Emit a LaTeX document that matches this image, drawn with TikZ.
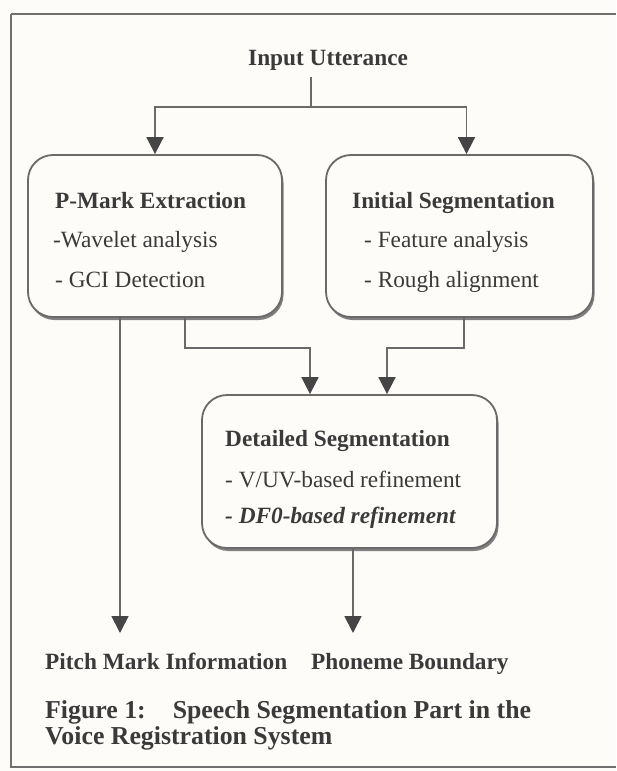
\documentclass[tikz,border=0pt]{standalone}
\usepackage{fontspec}
\setmainfont{Liberation Serif}
\usetikzlibrary{arrows.meta,calc,shadows}
\definecolor{ink}{HTML}{3A3A3A}
\definecolor{linec}{HTML}{6A6A6A}
\definecolor{tipc}{HTML}{454545}
\definecolor{paper}{HTML}{FDFCF9}
\definecolor{framec}{HTML}{707070}
\begin{document}
\begin{tikzpicture}[x=1pt,y=-1pt,
  txt/.style={font=\fontsize{23.3}{28}\selectfont, text=ink, inner sep=0pt, anchor=base west},
  btxt/.style={txt, font=\fontsize{23.3}{28}\selectfont\bfseries},
  bitxt/.style={txt, font=\fontsize{23.3}{28}\selectfont\bfseries\itshape},
  captxt/.style={txt, font=\fontsize{25.8}{28}\selectfont\bfseries},
  box/.style={draw=linec, line width=1.8pt, rounded corners=25pt, fill=paper, inner sep=0pt,
    drop shadow={shadow xshift=1.5pt, shadow yshift=-3pt, fill=black!55, opacity=0.9}},
  conn/.style={draw=linec, line width=1.8pt},
  arr/.style={conn, -{Triangle[width=17pt,length=17pt,color=tipc]}}
]
\useasboundingbox[fill=paper] (0,0) rectangle (616,771);
% frame
\draw[framec, line width=2.6pt] (616,14) -- (11,14);
\draw[framec, line width=2pt] (11,14) -- (11,767) -- (616,767);

% boxes
\node[box, minimum width=254pt, minimum height=162pt] (pm) at (155,236) {};
\node[box, minimum width=267pt, minimum height=162pt] (is) at (459.5,236) {};
\node[box, minimum width=295pt, minimum height=153pt] (ds) at (349.5,471.5) {};

% texts
\node[btxt] (in) at (248,65) {Input Utterance};
\node[btxt] (pmt) at (55,208) {P-Mark Extraction};
\node[txt] (pm1) at (53,247) {-Wavelet analysis};
\node[txt] (pm2) at (55,287) {- GCI Detection};
\node[btxt] (ist) at (352,208) {Initial Segmentation};
\node[txt] (is1) at (364,247) {- Feature analysis};
\node[txt] (is2) at (364,287) {- Rough alignment};
\node[btxt] (dst) at (225,446) {Detailed Segmentation};
\node[txt] (ds1) at (225,487) {- V/UV-based refinement};
\node[bitxt] (ds2) at (225,523) {- DF0-based refinement};
\node[btxt] (pmi) at (45,669) {Pitch Mark Information};
\node[btxt] (phb) at (311,669) {Phoneme Boundary};
\node[captxt] (cap1) at (45,718) {Figure 1:\hspace{27pt}Speech Segmentation Part in the};
\node[captxt] (cap2) at (45,744) {Voice Registration System};

% coordinates
\coordinate (split) at (311,107);
\coordinate (inb) at (311,77);
\coordinate (pmA) at (120,317);
\coordinate (pmtip) at (120,633);
\coordinate (pmB) at (185,317);
\coordinate (jl) at (310,348);
\coordinate (isB) at (464,317);
\coordinate (jr) at (387,348);
\coordinate (dsB) at (353,548);
\coordinate (phtip) at (353,633);

% connectors
\draw[conn] (inb) -- (split);
\draw[arr] (split) -| (pm.north);
\draw[arr] (split) -| ($(is.north)+(7,0)$);
\draw[arr] (pmA) -- (pmtip);
\draw[arr] (pmB) |- (jl) -- (jl |- ds.north);
\draw[arr] (isB) |- (jr) -- (jr |- ds.north);
\draw[arr] (dsB) -- (phtip);
\end{tikzpicture}
\end{document}
